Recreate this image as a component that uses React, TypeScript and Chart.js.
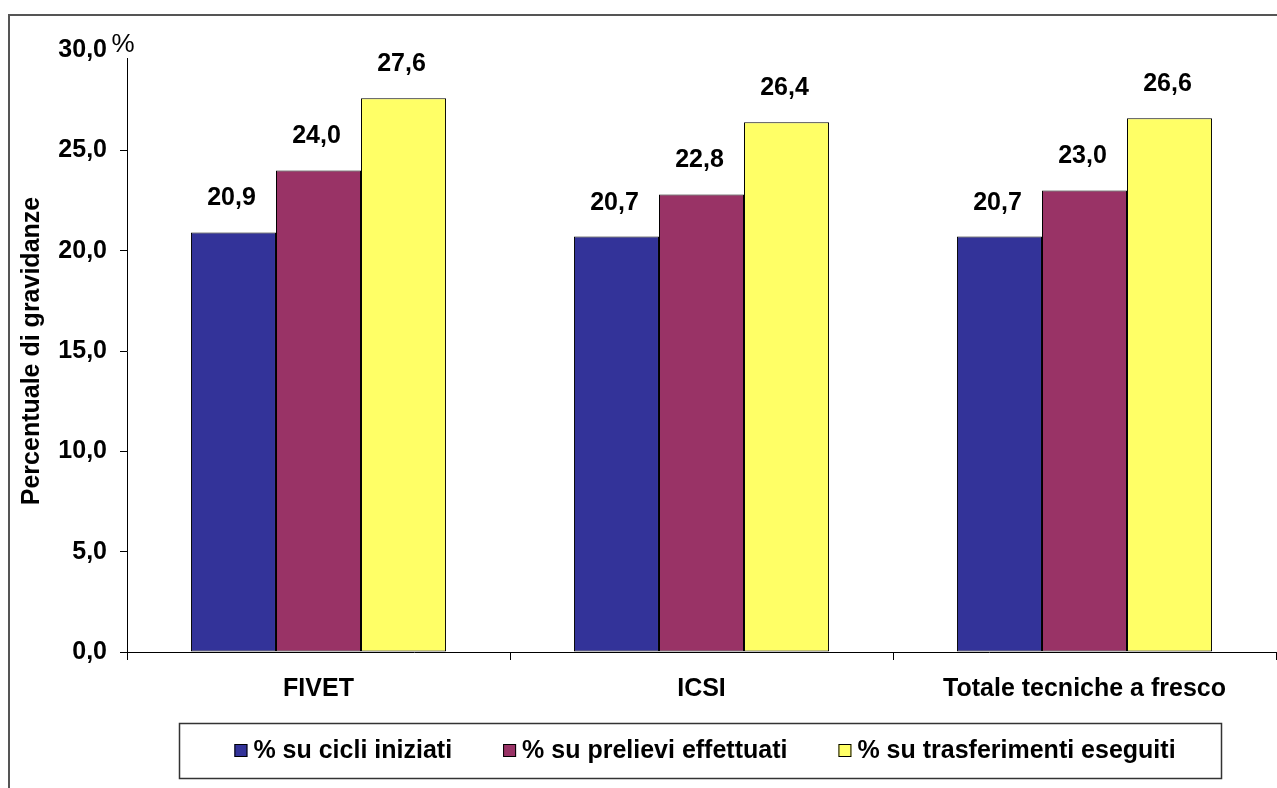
import React, { useEffect, useRef } from 'react';
import { Chart, registerables } from 'chart.js';

Chart.register(...registerables);

const categories = ['FIVET', 'ICSI', 'Totale tecniche a fresco'];
const seriesLabels = ['% su cicli iniziati', '% su prelievi effettuati', '% su trasferimenti eseguiti'];
const cicliIniziati = [20.9, 20.7, 20.7];
const prelieviEffettuati = [24.0, 22.8, 23.0];
const trasferimentiEseguiti = [27.6, 26.4, 26.6];
const seriesColors = ['#333399', '#993366', '#FFFF66'];
const yMin = 0;
const yMax = 30;
const yStep = 5;
const yAxisTitle = 'Percentuale di gravidanze';
const unitLabel = '%';

const FONT_FAMILY = '"Liberation Sans", Arial, Helvetica, sans-serif';
const FS = 25;
const fmt = (v: number) => v.toFixed(1).replace('.', ',');

const framePlugin = {
  id: 'frame',
  beforeDraw(chart: any) {
    const { ctx, width, height } = chart;
    ctx.save();
    ctx.fillStyle = '#fff';
    ctx.fillRect(0, 0, width, height);
    ctx.strokeStyle = '#555';
    ctx.lineWidth = 2;
    ctx.strokeRect(9, 15, width + 20, height + 20);
    ctx.restore();
  },
};

const dataLabelPlugin = {
  id: 'dataLabels',
  afterDatasetsDraw(chart: any) {
    const { ctx } = chart;
    ctx.save();
    ctx.font = `bold ${FS}px ${FONT_FAMILY}`;
    ctx.fillStyle = '#000';
    ctx.textAlign = 'center';
    ctx.textBaseline = 'middle';
    chart.data.datasets.forEach((ds: any, i: number) => {
      const meta = chart.getDatasetMeta(i);
      meta.data.forEach((el: any, j: number) => {
        ctx.fillText(fmt(ds.data[j]), el.x - 2, el.y - 34);
      });
    });
    ctx.restore();
  },
};

const unitPlugin = {
  id: 'unitLabel',
  afterDraw(chart: any) {
    const { ctx } = chart;
    const y = chart.scales.y;
    const x = y.right;
    const top = y.getPixelForValue(yMax);
    ctx.save();
    ctx.fillStyle = '#fff';
    ctx.fillRect(x - 9, top - 16, 20, 24);
    ctx.font = `26px ${FONT_FAMILY}`;
    ctx.fillStyle = '#000';
    ctx.textAlign = 'center';
    ctx.textBaseline = 'middle';
    ctx.fillText(unitLabel, x - 4, top - 5);
    ctx.restore();
  },
};

const legendPlugin = {
  id: 'boxLegend',
  afterDraw(chart: any) {
    const { ctx } = chart;
    const boxX = 179, boxY = 723, boxW = 1042, boxH = 55;
    ctx.save();
    ctx.strokeStyle = '#333';
    ctx.lineWidth = 1.5;
    ctx.strokeRect(boxX + 0.5, boxY + 0.5, boxW, boxH);
    ctx.font = `bold ${FS}px ${FONT_FAMILY}`;
    const sq = 13, gapSq = 6, gapItem = 51;
    const items = chart.data.datasets.map((ds: any) => ({
      label: ds.label,
      color: ds.backgroundColor,
      w: sq + gapSq + ctx.measureText(ds.label).width,
    }));
    const total = items.reduce((s: number, it: any) => s + it.w, 0) + gapItem * (items.length - 1);
    let x = boxX + boxW / 2 + 5 - total / 2;
    const cy = boxY + boxH / 2;
    ctx.textBaseline = 'middle';
    ctx.textAlign = 'left';
    items.forEach((it: any) => {
      ctx.fillStyle = it.color;
      ctx.fillRect(x, cy - sq / 2, sq, sq);
      ctx.strokeStyle = '#000';
      ctx.lineWidth = 1;
      ctx.strokeRect(x + 0.5, cy - sq / 2 + 0.5, sq - 1, sq - 1);
      ctx.fillStyle = '#000';
      ctx.fillText(it.label, x + sq + gapSq, cy + 1);
      x += it.w + gapItem;
    });
    ctx.restore();
  },
};

export default function App() {
  const canvasRef = useRef<HTMLCanvasElement | null>(null);

  useEffect(() => {
    if (!canvasRef.current) return;
    const seriesData = [cicliIniziati, prelieviEffettuati, trasferimentiEseguiti];
    const chart = new Chart(canvasRef.current, {
      type: 'bar',
      data: {
        labels: categories,
        datasets: seriesLabels.map((label, i) => ({
          label,
          data: seriesData[i],
          backgroundColor: seriesColors[i],
          borderColor: '#000',
          borderWidth: 1,
          borderSkipped: false,
          categoryPercentage: 0.666,
          barPercentage: 1.0,
        })),
      },
      options: {
        animation: false,
        responsive: false,
        devicePixelRatio: 1,
        layout: { padding: { top: 50, left: 0, right: 1, bottom: 0 } },
        plugins: {
          legend: { display: false },
          tooltip: { enabled: false },
        },
        scales: {
          x: {
            type: 'category',
            offset: true,
            grid: {
              display: true,
              drawOnChartArea: false,
              drawTicks: true,
              tickLength: 8,
              offset: true,
              color: '#000',
            },
            border: { color: '#000', width: 1 },
            ticks: {
              color: '#000',
              font: { family: FONT_FAMILY, size: FS, weight: 'bold' },
              padding: 14,
              maxRotation: 0,
              autoSkip: false,
            },
            afterFit: (s: any) => { s.height = 136; },
          },
          y: {
            min: yMin,
            max: yMax,
            grid: {
              display: true,
              drawOnChartArea: false,
              drawTicks: true,
              tickLength: 7,
              color: '#000',
            },
            border: { color: '#000', width: 1 },
            ticks: {
              stepSize: yStep,
              color: '#000',
              font: { family: FONT_FAMILY, size: FS, weight: 'bold' },
              padding: 13,
              callback: (v: any) => fmt(Number(v)),
            },
            title: {
              display: true,
              text: yAxisTitle,
              color: '#000',
              font: { family: FONT_FAMILY, size: FS, weight: 'bold' },
              padding: { top: 17, bottom: 0 },
            },
            afterFit: (s: any) => { s.width = 127; },
          },
        },
      } as any,
      plugins: [framePlugin, dataLabelPlugin, unitPlugin, legendPlugin],
    });
    return () => chart.destroy();
  }, []);

  return (
    <div style={{ position: 'fixed', left: 0, top: 0, width: 1277, height: 788, overflow: 'hidden' }}>
      <canvas ref={canvasRef} width={1277} height={788} style={{ display: 'block' }} />
    </div>
  );
}
